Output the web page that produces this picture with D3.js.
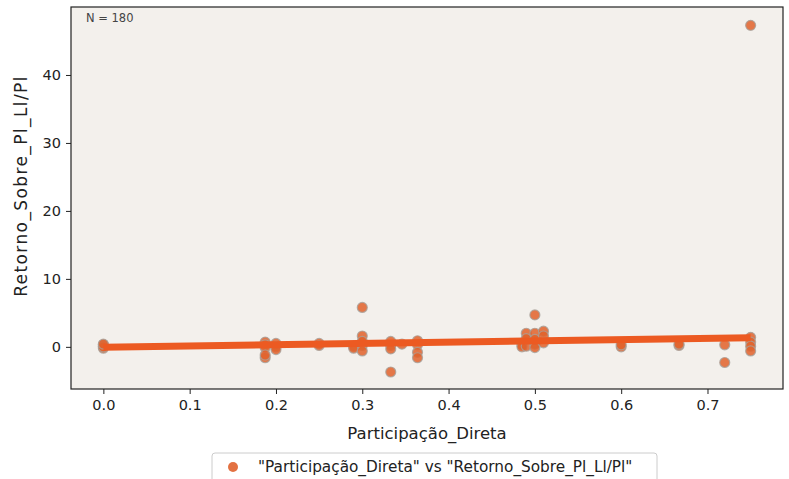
<!DOCTYPE html>
<html><head><meta charset="utf-8">
<script src="https://cdn.jsdelivr.net/npm/d3@7"></script>
<style>html,body{margin:0;padding:0;background:#fff;}svg{display:block;}</style>
</head><body>
<svg id="c" width="789" height="479"></svg>
<script>
const xValues = [0,0,0,0,0,
  0.1875,0.1875,0.1875,0.1875,0.1875,
  0.2,0.2,0.2,
  0.25,0.25,
  0.29,0.29,
  0.3,0.3,0.3,0.3,0.3,
  0.333,0.333,0.333,0.333,
  0.346,
  0.364,0.364,0.364,0.364,
  0.485,0.485,
  0.49,0.49,0.49,
  0.5,0.5,0.5,0.5,0.5,
  0.51,0.51,0.51,
  0.6,0.6,
  0.667,0.667,
  0.72,0.72,
  0.75,0.75,0.75,0.75,0.75];
const yValues = [0.3,0.1,-0.2,0.0,0.4,
  0.7,0.3,-0.1,-1.6,-1.2,
  0.5,0.0,-0.4,
  0.5,0.2,
  0.1,-0.2,
  5.8,1.6,0.8,0.2,-0.6,
  0.8,0.2,-0.3,-3.7,
  0.4,
  0.9,0.3,-0.8,-1.6,
  0.3,0.0,
  2.0,1.2,0.1,
  4.7,2.0,1.1,0.4,-0.1,
  2.3,1.6,0.6,
  0.0,0.3,
  0.2,0.4,
  0.3,-2.3,
  47.3,1.4,0.7,0.1,-0.6];
const regX = [0, 0.75];
const regY = [-0.05, 1.35];
const xTicks = [0,0.1,0.2,0.3,0.4,0.5,0.6,0.7];
const yTicks = [0,10,20,30,40];
const nLabel = "N = 180";
const xLabel = "Participação_Direta";
const yLabel = "Retorno_Sobre_Pl_Ll/Pl";
const legendLabel = "\"Participação_Direta\" vs \"Retorno_Sobre_Pl_Ll/Pl\"";

const svg = d3.select("#c");
const L=71, R=783, T=7, B=389;
const x = d3.scaleLinear().domain([-0.0375,0.7875]).range([L,R]);
const y = d3.scaleLinear().domain([-6.2,50.0]).range([B,T]);
const font = "DejaVu Sans, sans-serif";

svg.append("rect").attr("x",L).attr("y",T).attr("width",R-L).attr("height",B-T).attr("fill","#f3f0ec");

const pts = svg.append("g");
xValues.forEach((xv,i)=>{
  pts.append("circle").attr("cx",x(xv)).attr("cy",y(yValues[i])).attr("r",5)
    .attr("fill","#e0622c").attr("fill-opacity",0.85)
    .attr("stroke","#a8a09a").attr("stroke-width",1.2).attr("stroke-opacity",0.8);
});

svg.append("line").attr("x1",x(regX[0])).attr("y1",y(regY[0])).attr("x2",x(regX[1])).attr("y2",y(regY[1]))
  .attr("stroke","#ec5a22").attr("stroke-width",7).attr("stroke-linecap","butt");

svg.append("rect").attr("x",L).attr("y",T).attr("width",R-L).attr("height",B-T)
  .attr("fill","none").attr("stroke","#222").attr("stroke-width",1.2);

const xa = svg.append("g").attr("transform",`translate(0,${B})`)
  .call(d3.axisBottom(x).tickValues(xTicks).tickFormat(d3.format(".1f")).tickSize(5).tickPadding(6));
const ya = svg.append("g").attr("transform",`translate(${L},0)`)
  .call(d3.axisLeft(y).tickValues(yTicks).tickFormat(d3.format("d")).tickSize(5).tickPadding(5));
[xa,ya].forEach(a=>{
  a.select(".domain").remove();
  a.selectAll("line").attr("stroke","#222");
  a.selectAll("text").attr("font-family",font).attr("font-size",14.5).attr("fill","#222");
});

svg.append("text").attr("x",427).attr("y",439).attr("text-anchor","middle")
  .attr("font-family",font).attr("font-size",16.5).attr("fill","#222").text(xLabel);
svg.append("text").attr("transform",`translate(27,186) rotate(-90)`).attr("text-anchor","middle")
  .attr("font-family",font).attr("font-size",17).attr("letter-spacing",1.4).attr("fill","#222").text(yLabel);

svg.append("text").attr("x",86).attr("y",22).attr("font-family",font).attr("font-size",11.5).attr("fill","#444").text(nLabel);

const lg = svg.append("g");
lg.append("rect").attr("x",212).attr("y",453).attr("width",445).attr("height",32).attr("rx",3)
  .attr("fill","#fff").attr("stroke","#ccc");
lg.append("circle").attr("cx",233).attr("cy",467).attr("r",5).attr("fill","#e0622c").attr("fill-opacity",0.9);
lg.append("text").attr("x",258).attr("y",472).attr("font-family",font).attr("font-size",15.3).attr("fill","#222").text(legendLabel);
</script>
</body></html>
